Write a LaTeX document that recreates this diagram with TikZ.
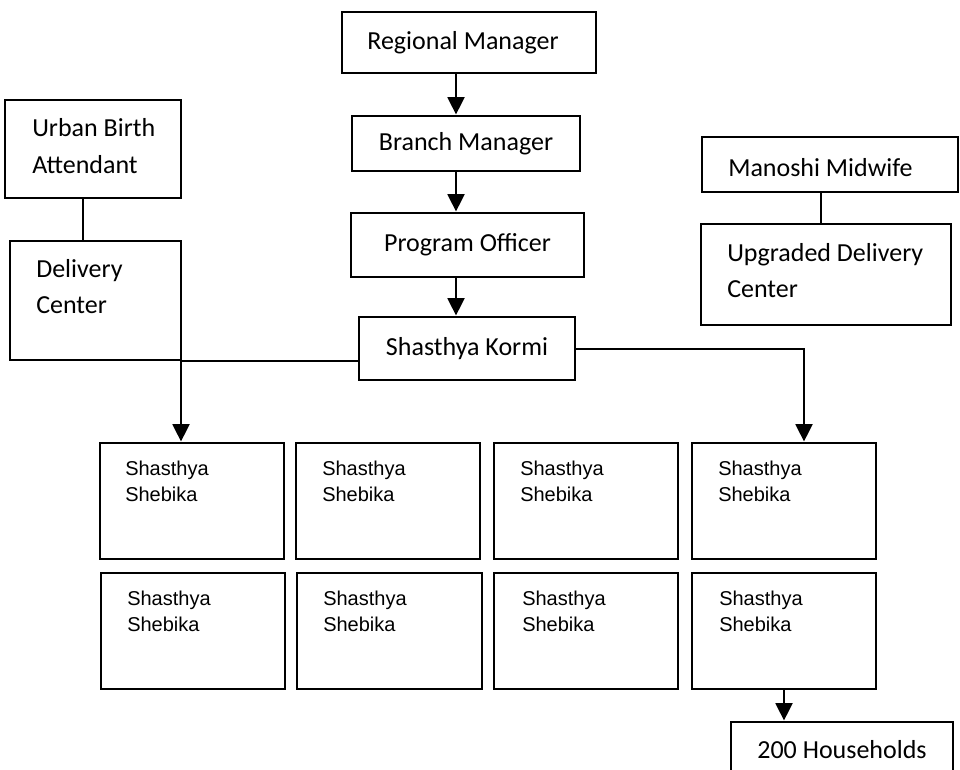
\documentclass[tikz,border=0pt]{standalone}
\usepackage{fontspec}
\setmainfont{Carlito}
\newfontfamily\arialf{Liberation Sans}
\usetikzlibrary{arrows.meta}
\newcommand{\bx}[6]{\node[box, minimum width={(#4-#2)*0.75pt}, minimum height={(#5-#3)*0.75pt}] (#1) at ({(#2+#4)/2},{(#3+#5)/2}) {#6};}
\begin{document}
\begin{tikzpicture}[x=0.75pt,y=-0.75pt,
  box/.style={draw, line width=2.2pt, inner sep=0pt, fill=white, font=\fontsize{19.5}{27}\selectfont},
  lbl/.style={font=\fontsize{19.5}{26.5}\selectfont, align=left, inner sep=0pt, anchor=base west},
  sml/.style={font=\arialf\fontsize{15}{19.5}\selectfont, align=left, inner sep=0pt, anchor=base west},
  conn/.style={line width=2.2pt},
  arr/.style={conn, -{Triangle[length=13pt,width=12.5pt]}}]
\clip (0,0) rectangle (960,770);
\fill[white] (0,0) rectangle (960,770);
% central column
\bx{rm}{342}{12}{596}{73}{\hspace*{-9pt}Regional Manager}
\bx{bm}{352}{116}{580}{171}{Branch Manager}
\bx{po}{351}{213}{584}{277}{Program Officer}
\bx{sk}{359}{317}{575}{380}{Shasthya Kormi}
% left
\bx{ub}{5}{100}{181}{198}{}
\bx{dc}{10}{241}{181}{360}{}
\node[lbl, font=\fontsize{19.5}{27.75}\selectfont] (ubt) at (32,174) {Urban Birth\\Attendant};
\node[lbl] (dct) at (36,313) {Delivery\\Center};
% right
\bx{mm}{702}{137}{958}{192}{}
\bx{ud}{701}{224}{951}{325}{}
\node[lbl] (mmt) at (728,176) {Manoshi Midwife};
\node[lbl] (udt) at (727,297) {Upgraded Delivery\\Center};
% Shebika rows
\bx{s11}{100}{443}{284}{559}{}
\bx{s12}{296}{443}{480}{559}{}
\bx{s13}{494}{443}{678}{559}{}
\bx{s14}{692}{443}{876}{559}{}
\bx{s21}{101}{573}{285}{689}{}
\bx{s22}{297}{573}{482}{689}{}
\bx{s23}{494}{573}{678}{689}{}
\bx{s24}{692}{573}{876}{689}{}
\node[sml] (t11) at (125,501) {Shasthya\\Shebika};
\node[sml] (t12) at (322,501) {Shasthya\\Shebika};
\node[sml] (t13) at (520,501) {Shasthya\\Shebika};
\node[sml] (t14) at (718,501) {Shasthya\\Shebika};
\node[sml] (t21) at (127,631) {Shasthya\\Shebika};
\node[sml] (t22) at (323,631) {Shasthya\\Shebika};
\node[sml] (t23) at (522,631) {Shasthya\\Shebika};
\node[sml] (t24) at (719,631) {Shasthya\\Shebika};
% households
\bx{hh}{731}{722}{953}{778}{200 Households}
% connectors
\coordinate (ax) at (456,0);
\draw[arr] (rm.south -| ax) -- (bm.north -| ax);
\draw[arr] (bm.south -| ax) -- (po.north -| ax);
\draw[arr] (po.south -| ax) -- (sk.north -| ax);
\coordinate (uc) at (83,0);
\draw[conn] (ub.south -| uc) -- (dc.north -| uc);
\coordinate (mc) at (821,0);
\draw[conn] (mm.south -| mc) -- (ud.north -| mc);
\coordinate (kl) at (181,361);
\draw[arr] (sk.west |- kl) -- (kl) -- (s11.north -| kl);
\coordinate (kr) at (804,349);
\draw[arr] (sk.east |- kr) -- (kr) -- (s14.north -| kr);
\coordinate (hc) at (784,0);
\draw[arr] (s24.south -| hc) -- (hh.north -| hc);
\end{tikzpicture}
\end{document}
